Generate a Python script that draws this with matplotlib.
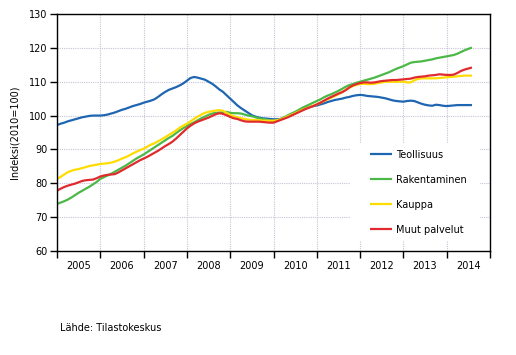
import numpy as np
import matplotlib
matplotlib.use('Agg')
import matplotlib.pyplot as plt
from matplotlib.patches import Rectangle
from matplotlib.ticker import FixedLocator, NullFormatter

# monthly trend index, Jan 2005 - Aug 2014 (2010=100)
teollisuus = [
    97.2, 97.6, 97.9, 98.3, 98.6, 98.9, 99.2, 99.5, 99.7, 99.9, 100.0, 100.0,
    100.0, 100.1, 100.3, 100.6, 100.9, 101.3, 101.7, 102.0, 102.4, 102.8, 103.1, 103.4,
    103.8, 104.1, 104.4, 104.8, 105.5, 106.3, 107.0, 107.6, 108.0, 108.4, 108.9, 109.5,
    110.3, 111.1, 111.4, 111.2, 110.9, 110.6, 110.0, 109.4, 108.6, 107.7, 107.0, 106.0,
    105.0, 104.0, 103.0, 102.2, 101.5, 100.8, 100.1, 99.7, 99.4, 99.2, 99.1, 99.0,
    98.9, 98.9, 99.0, 99.4, 99.8, 100.3, 100.8, 101.3, 101.7, 102.1, 102.5, 102.8,
    103.0, 103.3, 103.6, 104.0, 104.3, 104.6, 104.8, 105.0, 105.3, 105.5, 105.8, 106.0,
    106.1, 106.0, 105.8, 105.7, 105.6, 105.5, 105.3, 105.1, 104.8, 104.5, 104.3, 104.2,
    104.1, 104.3, 104.4, 104.3, 103.9, 103.5, 103.2, 103.0, 102.9, 103.2, 103.1, 102.9,
    102.8, 102.9, 103.0, 103.1, 103.1, 103.1, 103.1, 103.1,
]
rakentaminen = [
    73.9, 74.3, 74.7, 75.2, 75.8, 76.5, 77.2, 77.8, 78.4, 79.0, 79.7, 80.4,
    81.3, 81.8, 82.3, 82.8, 83.4, 84.0, 84.6, 85.2, 85.9, 86.6, 87.3, 87.9,
    88.5, 89.2, 89.9, 90.6, 91.3, 92.0, 92.7, 93.4, 94.0, 94.8, 95.6, 96.3,
    96.9, 97.5, 98.0, 98.6, 99.2, 99.7, 100.2, 100.6, 100.8, 100.9, 101.0, 101.1,
    100.8, 100.7, 100.7, 100.6, 100.3, 100.0, 99.8, 99.5, 99.2, 99.0, 98.8, 98.5,
    98.4, 98.6, 99.0, 99.5, 100.1, 100.6, 101.1, 101.7, 102.3, 102.8, 103.3, 103.8,
    104.3, 104.8, 105.4, 105.9, 106.3, 106.8, 107.3, 107.9, 108.5, 109.0, 109.3, 109.7,
    110.0, 110.3, 110.6, 110.9, 111.2, 111.6, 112.0, 112.4, 112.8, 113.3, 113.8, 114.2,
    114.6, 115.1, 115.6, 115.8, 115.9, 116.0, 116.2, 116.4, 116.6, 116.9, 117.1, 117.3,
    117.5, 117.7, 117.9, 118.3, 118.8, 119.3, 119.7, 120.1,
]
kauppa = [
    81.3, 81.9, 82.6, 83.3, 83.7, 84.0, 84.2, 84.5, 84.8, 85.1, 85.3, 85.5,
    85.7, 85.8, 85.9, 86.1, 86.4, 86.8, 87.3, 87.7, 88.2, 88.8, 89.3, 89.8,
    90.2, 90.8, 91.4, 91.8, 92.4, 93.0, 93.6, 94.3, 94.9, 95.6, 96.4, 97.0,
    97.6, 98.3, 99.0, 99.7, 100.3, 100.8, 101.1, 101.3, 101.5, 101.6, 101.4, 100.8,
    100.2, 99.8, 99.5, 99.2, 99.0, 98.8, 98.7, 98.7, 98.6, 98.5, 98.5, 98.5,
    98.5, 98.6, 98.9, 99.3, 99.8, 100.2, 100.7, 101.2, 101.7, 102.1, 102.5, 102.9,
    103.3, 103.8, 104.3, 104.8, 105.3, 105.8, 106.3, 106.9, 107.6, 108.2, 108.7, 109.1,
    109.3, 109.4, 109.3, 109.3, 109.4, 109.6, 109.8, 110.0, 110.0, 110.0, 110.0, 110.0,
    110.0, 109.8, 109.8, 110.4, 110.8, 111.0, 111.0, 111.0, 111.0, 111.0, 111.1, 111.2,
    111.3, 111.4, 111.5, 111.6, 111.7, 111.8, 111.8, 111.8,
]
muut_palvelut = [
    77.8, 78.4, 78.9, 79.3, 79.6, 79.9, 80.3, 80.7, 80.9, 81.0, 81.1, 81.5,
    82.0, 82.3, 82.5, 82.6, 82.7, 83.2, 83.8, 84.4, 85.0, 85.6, 86.2, 86.8,
    87.3, 87.8, 88.4, 89.0, 89.6, 90.3, 91.0, 91.6, 92.3, 93.2, 94.2, 95.2,
    96.2, 97.0, 97.7, 98.2, 98.6, 99.0, 99.4, 99.9, 100.4, 100.7, 100.5, 100.1,
    99.6, 99.2, 99.0, 98.6, 98.3, 98.2, 98.2, 98.2, 98.2, 98.1, 98.0, 97.9,
    97.9, 98.3, 98.7, 99.1, 99.5, 100.0, 100.5, 101.0, 101.5, 102.0, 102.4, 102.8,
    103.3, 103.8, 104.4, 105.0, 105.5, 106.0, 106.5, 106.9, 107.5, 108.3, 108.9, 109.3,
    109.6, 109.8, 109.8, 109.7, 109.8, 110.0, 110.2, 110.3, 110.4, 110.5, 110.5, 110.6,
    110.7, 110.8, 110.9, 111.2, 111.4, 111.5, 111.6, 111.8, 111.9, 112.0, 112.2, 112.1,
    112.0, 112.0, 112.1, 112.6, 113.2, 113.6, 113.9, 114.2,
]

years = list(range(2005, 2015))
series = [
    ('Teollisuus', teollisuus, '#1f66b2'),
    ('Rakentaminen', rakentaminen, '#4cb847'),
    ('Kauppa', kauppa, '#ffdc00'),
    ('Muut palvelut', muut_palvelut, '#e02a2e'),
]

# month positions as fractional years
t = 2005 + np.arange(len(teollisuus)) / 12.0

W, H = 516, 355
fig = plt.figure(figsize=(W / 100, H / 100), dpi=100)
ax = fig.add_axes([57 / W, 1 - 251 / H, 433 / W, 237 / H])

for name, vals, col in series:
    ax.plot(t, vals, color=col, lw=1.6, label=name, solid_capstyle='butt')

ax.set_xlim(2005, 2015)
ax.set_ylim(60, 130)
ax.set_yticks(range(60, 131, 10))

# year boundaries as ticks, labels centred in the year
ax.xaxis.set_major_locator(FixedLocator(years + [2015]))
ax.xaxis.set_major_formatter(NullFormatter())
ax.xaxis.set_minor_locator(FixedLocator([y + 0.5 for y in years]))
ax.set_xticklabels([str(y) for y in years], minor=True)
ax.tick_params(axis='x', which='minor', length=0, pad=7, labelsize=7)
ax.tick_params(axis='x', which='major', length=5, width=1, direction='out')
ax.tick_params(axis='y', length=5, width=1, direction='out', labelsize=7, pad=2)

ax.grid(True, which='major', color='#c8c4d8', linestyle=(0, (1, 1)), lw=0.8)
ax.set_axisbelow(True)
for sp in ax.spines.values():
    sp.set_linewidth(1)
    sp.set_color('black')

ax.set_ylabel('Indeksi(2010=100)', fontsize=7, labelpad=7)

# white box behind the legend that hides the grid
ax.add_patch(Rectangle(((350 - 57) / 433, (251 - 241) / 237), 130 / 433, 98 / 237,
                       transform=ax.transAxes, facecolor='white', edgecolor='none',
                       zorder=1.5))

leg = ax.legend(loc='upper left', bbox_to_anchor=((370 - 57) / 433, (251 - 149.5) / 237),
                frameon=False, fontsize=7, handlelength=2.3, handletextpad=0.4,
                labelspacing=1.55, borderpad=0, borderaxespad=0)

fig.text(60 / W, 1 - 328 / H, 'Lähde: Tilastokeskus', fontsize=7, va='center')

fig.savefig('out.png', dpi=100)
